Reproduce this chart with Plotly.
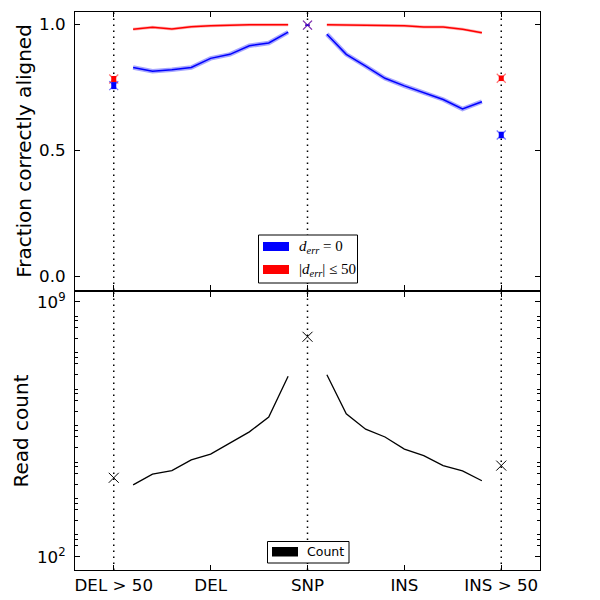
import plotly.graph_objects as go

# ---------------- data ----------------
categories = ["DEL > 50", "DEL", "SNP", "INS", "INS > 50"]
category_pos = [-2, -1, 0, 1, 2]

del_x = [-1.8, -1.6, -1.4, -1.2, -1.0, -0.8, -0.6, -0.4, -0.2]
ins_x = [0.2, 0.4, 0.6, 0.8, 1.0, 1.2, 1.4, 1.6, 1.8]
point_x = [-2, 0, 2]

exact_del = [0.828, 0.813, 0.819, 0.828, 0.864, 0.880, 0.914, 0.925, 0.968]
exact_ins = [0.960, 0.880, 0.833, 0.785, 0.755, 0.727, 0.701, 0.663, 0.692]
exact_points = [0.756, 0.996, 0.560]
exact_err = [0.014, 0.002, 0.013]

within_del = [0.980, 0.987, 0.981, 0.989, 0.993, 0.996, 0.997, 0.997, 0.997]
within_ins = [0.997, 0.996, 0.996, 0.995, 0.993, 0.988, 0.988, 0.980, 0.966]
within_points = [0.782, 0.996, 0.785]
within_err = [0.012, 0.002, 0.011]

count_del = [9.5e3, 1.86e4, 2.34e4, 4.6e4, 6.6e4, 1.32e5, 2.7e5, 6.9e5, 9.1e6]
count_ins = [1.0e7, 8.5e5, 3.2e5, 1.95e5, 9.1e4, 6.0e4, 3.2e4, 2.3e4, 1.23e4]
count_points = [1.48e4, 1.1e8, 3.2e4]

legend_top = ["<i>d</i><sub><i>err</i></sub> = 0", "|<i>d</i><sub><i>err</i></sub>| ≤ 50"]
legend_bottom = ["Count"]

# ---------------- layout helpers ----------------
# The page body adds an 8px offset; positions below are given in page pixels.
OFF = 8
W = H = 600
PL, PR, PT, PB = 75, 540, 12, 570          # plot area in page pixels
ML, MT = PL - OFF, PT - OFF
MR, MB = W - (PR - OFF), H - (PB - OFF)
PW, PH = PR - PL, PB - PT


def px(x):
    return (x - PL) / PW


def py(y):
    return (PB - y) / PH


BLUE = "#0000ff"
RED = "#ff0000"
FONT = "DejaVu Sans"

fig = go.Figure()

# ---- top panel ----
for xs, ys in [(del_x, exact_del), (ins_x, exact_ins)]:
    fig.add_trace(go.Scatter(x=xs, y=ys, mode="lines", xaxis="x", yaxis="y",
                             line=dict(color="rgba(0,0,255,0.35)", width=4.5),
                             showlegend=False, hoverinfo="skip"))
    fig.add_trace(go.Scatter(x=xs, y=ys, mode="lines", xaxis="x", yaxis="y",
                             line=dict(color=BLUE, width=1.5), showlegend=False))
for xs, ys in [(del_x, within_del), (ins_x, within_ins)]:
    fig.add_trace(go.Scatter(x=xs, y=ys, mode="lines", xaxis="x", yaxis="y",
                             line=dict(color="rgba(255,0,0,0.3)", width=3),
                             showlegend=False, hoverinfo="skip"))
    fig.add_trace(go.Scatter(x=xs, y=ys, mode="lines", xaxis="x", yaxis="y",
                             line=dict(color=RED, width=1.5), showlegend=False))

for ys, err, col, xcol in [(within_points, within_err, RED, "rgba(255,0,0,0.55)"),
                           (exact_points, exact_err, BLUE, "rgba(0,0,255,0.55)")]:
    fig.add_trace(go.Scatter(
        x=point_x, y=ys, mode="markers", xaxis="x", yaxis="y",
        marker=dict(symbol="x-thin", size=9, line=dict(color=xcol, width=1.2)),
        error_y=dict(type="data", array=err, thickness=5, width=0, color=col),
        showlegend=False))

# ---- bottom panel ----
for xs, ys in [(del_x, count_del), (ins_x, count_ins)]:
    fig.add_trace(go.Scatter(x=xs, y=ys, mode="lines", xaxis="x2", yaxis="y2",
                             line=dict(color="black", width=1.3), showlegend=False))
fig.add_trace(go.Scatter(x=point_x, y=count_points, mode="markers", xaxis="x2", yaxis="y2",
                         marker=dict(symbol="x-thin", size=10,
                                     line=dict(color="black", width=1)),
                         showlegend=False))

# ---- dotted vertical guide lines ----
shapes = []
for xv in point_x:
    for xr, yr in [("x", "y domain"), ("x2", "y2 domain")]:
        shapes.append(dict(type="line", xref=xr, yref=yr, x0=xv, x1=xv, y0=0, y1=1,
                           line=dict(color="black", width=1.5, dash="1.5px,4.5px"),
                           layer="below"))

# ---- legends (drawn as boxes + real text) ----
annotations = []
# top legend
shapes.append(dict(type="rect", xref="paper", yref="paper",
                   x0=px(258.5), x1=px(357.5), y0=py(283), y1=py(235),
                   line=dict(color="black", width=1), fillcolor="white", layer="above"))
for i, (txt, col) in enumerate(zip(legend_top, [BLUE, RED])):
    yc = 246.5 + i * 23
    shapes.append(dict(type="rect", xref="paper", yref="paper",
                       x0=px(263), x1=px(289), y0=py(yc + 4.5), y1=py(yc - 4.5),
                       line=dict(width=0), fillcolor=col, layer="above"))
    annotations.append(dict(xref="paper", yref="paper", x=px(297), y=py(yc),
                            text=txt, showarrow=False, xanchor="left", yanchor="middle",
                            font=dict(family="Liberation Serif", size=15, color="black")))
# bottom legend
shapes.append(dict(type="rect", xref="paper", yref="paper",
                   x0=px(267.5), x1=px(349), y0=py(563), y1=py(541.5),
                   line=dict(color="black", width=1), fillcolor="white", layer="above"))
shapes.append(dict(type="rect", xref="paper", yref="paper",
                   x0=px(272), x1=px(298), y0=py(556.5), y1=py(547),
                   line=dict(width=0), fillcolor="black", layer="above"))
annotations.append(dict(xref="paper", yref="paper", x=px(305), y=py(551.5),
                        text=legend_bottom[0], showarrow=False, xanchor="left",
                        yanchor="middle", font=dict(family=FONT, size=12.5, color="black")))

top_dom = [py(290), 1.0]
bot_dom = [0.0, py(292)]

common_x = dict(range=[-2.4, 2.4], tickvals=category_pos, ticks="inside", ticklen=5,
                tickcolor="black", showline=True, linecolor="black", linewidth=1,
                mirror="allticks", showgrid=False, zeroline=False, automargin=False)

labeled_decades = [1e2, 1e9]
labeled_text = ["10<sup>2</sup>", "10<sup>9</sup>"]
minor_vals = sorted([m * 10 ** k for k in range(1, 10) for m in (2, 3, 4)]
                    + [10 ** k for k in range(3, 9)])

fig.update_layout(
    width=W, height=H,
    margin=dict(l=ML, r=MR, t=MT, b=MB, pad=0, autoexpand=False),
    paper_bgcolor="white", plot_bgcolor="white",
    font=dict(family=FONT, size=16.7, color="black"),
    showlegend=False,
    xaxis=dict(domain=[0, 1], anchor="y", showticklabels=False, **common_x),
    yaxis=dict(domain=top_dom, anchor="x", range=[-0.055, 1.048],
               tickvals=[0, 0.5, 1.0], ticktext=["0.0", "0.5", "1.0"],
               ticks="inside", ticklen=5, tickcolor="black", showline=True,
               linecolor="black", linewidth=1, mirror="allticks", showgrid=False,
               zeroline=False, ticklabelstandoff=5, automargin=False,
               title=dict(text="Fraction correctly aligned", standoff=2)),
    xaxis2=dict(domain=[0, 1], anchor="y2", ticktext=categories,
                ticklabelstandoff=0, **common_x),
    yaxis2=dict(domain=bot_dom, anchor="x2", type="log", range=[1.64, 9.27],
                tickvals=labeled_decades, ticktext=labeled_text,
                ticks="inside", ticklen=5, tickcolor="black", showline=True,
                linecolor="black", linewidth=1, mirror="allticks", showgrid=False,
                zeroline=False, ticklabelstandoff=5, automargin=False,
                minor=dict(tickvals=minor_vals, ticks="inside", ticklen=3,
                           tickcolor="black", showgrid=False),
                title=dict(text="Read count", standoff=2)),
    shapes=shapes,
    annotations=annotations,
)

fig.write_html("out.html")
